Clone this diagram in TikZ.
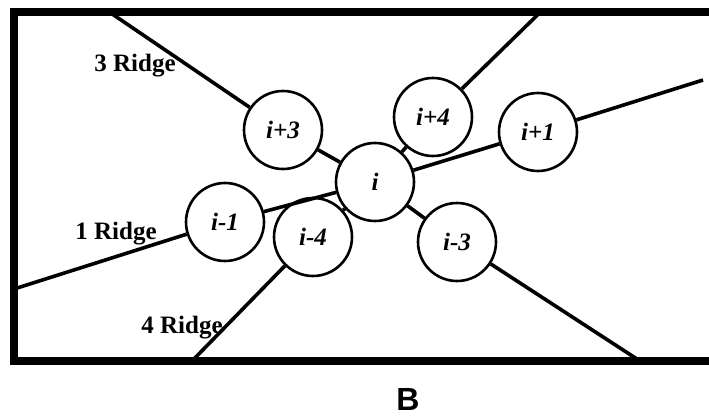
\documentclass[tikz,border=0pt]{standalone}
\usepackage{fontspec}
\setmainfont{Liberation Serif}
\newfontfamily\capsans{Liberation Sans}
\usetikzlibrary{positioning}

\begin{document}
\begin{tikzpicture}[x=1pt, y=-1pt,
    ball/.style={draw, circle, line width=2.6pt, fill=white, minimum size=78pt,
                 inner sep=0pt, font=\fontsize{25}{27}\selectfont\bfseries\itshape},
    ridge/.style={line width=3.6pt},
    lbl/.style={inner sep=0pt, font=\fontsize{25}{27}\selectfont\bfseries}
]
    \useasboundingbox (0,0) rectangle (709,417);
    \draw[line width=8pt] (709,12.5) -- (14,12.5) -- (14,361) -- (709,361);

    \node[ball] (ci)  at (375,182) {i};
    \node[ball] (cp3) at (283,130) {i+3};
    \node[ball] (cp4) at (433,117) {i+4};
    \node[ball] (cp1) at (538,132) {i+1};
    \node[ball] (cm1) at (225,222) {i-1};
    \node[ball] (cm4) at (313,237) {i-4};
    \node[ball] (cm3) at (457,242) {i-3};

    \coordinate (top3) at (110,12.5);
    \coordinate (top4) at (540,12.5);
    \coordinate (right1) at (703,80);
    \coordinate (left1) at (14,289);
    \coordinate (bot4) at (192,361);
    \coordinate (bot3) at (640,361);

    \draw[ridge] (top3) -- (cp3);
    \draw[ridge] (cp3) -- (ci);
    \draw[ridge] (top4) -- (cp4);
    \draw[ridge] (cp4) -- (ci);
    \draw[ridge] (ci) -- (cp1);
    \draw[ridge] (cp1) -- (right1);
    \draw[ridge] (left1) -- (cm1);
    \draw[ridge] (cm1) -- (ci);
    \draw[ridge] (cm4) -- (ci);
    \draw[ridge] (cm4) -- (bot4);
    \draw[ridge] (ci) -- (cm3);
    \draw[ridge] (cm3) -- (bot3);

    \node[lbl] (r3) at (135,66) {3 Ridge};
    \node[lbl] (r1) at (116,234) {1 Ridge};
    \node[lbl] (r4) at (182,328) {4 Ridge};

    \node[inner sep=0pt, font=\capsans\fontsize{32}{34}\selectfont\bfseries] (cap) at (408,399) {B};
\end{tikzpicture}
\end{document}
